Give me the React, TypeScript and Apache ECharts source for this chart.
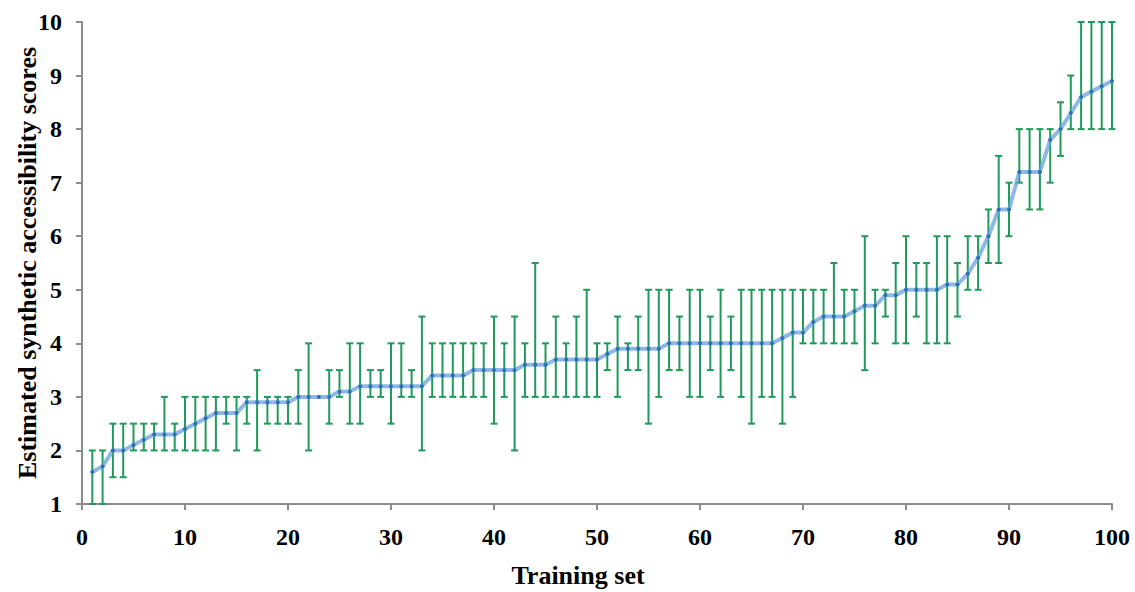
import React, { useEffect, useRef } from "react";
import * as echarts from "echarts";

const trainingSet: number[] = Array.from({ length: 100 }, (_, i) => i + 1);

const scores: number[] = [
  1.6, 1.7, 2.0, 2.0, 2.1, 2.2, 2.3, 2.3, 2.3, 2.4,
  2.5, 2.6, 2.7, 2.7, 2.7, 2.9, 2.9, 2.9, 2.9, 2.9,
  3.0, 3.0, 3.0, 3.0, 3.1, 3.1, 3.2, 3.2, 3.2, 3.2,
  3.2, 3.2, 3.2, 3.4, 3.4, 3.4, 3.4, 3.5, 3.5, 3.5,
  3.5, 3.5, 3.6, 3.6, 3.6, 3.7, 3.7, 3.7, 3.7, 3.7,
  3.8, 3.9, 3.9, 3.9, 3.9, 3.9, 4.0, 4.0, 4.0, 4.0,
  4.0, 4.0, 4.0, 4.0, 4.0, 4.0, 4.0, 4.1, 4.2, 4.2,
  4.4, 4.5, 4.5, 4.5, 4.6, 4.7, 4.7, 4.9, 4.9, 5.0,
  5.0, 5.0, 5.0, 5.1, 5.1, 5.3, 5.6, 6.0, 6.5, 6.5,
  7.2, 7.2, 7.2, 7.8, 8.0, 8.3, 8.6, 8.7, 8.8, 8.9,
];

const lowBounds: number[] = [
  1, 1, 1.5, 1.5, 2, 2, 2, 2, 2, 2,
  2, 2, 2, 2.5, 2, 2.5, 2, 2.5, 2.5, 2.5,
  2.5, 2, 3, 2.5, 3, 2.5, 2.5, 3, 3, 2.5,
  3, 3, 2, 3, 3, 3, 3, 3, 3, 2.5,
  3, 2, 3, 3, 3, 3, 3, 3, 3, 3,
  3.5, 3, 3.5, 3.5, 2.5, 3, 3.5, 3.5, 3, 3,
  3.5, 3, 3.5, 3, 2.5, 3, 3, 2.5, 3, 4,
  4, 4, 4, 4, 4, 3.5, 4, 4.5, 4, 4,
  4.5, 4, 4, 4, 4.5, 5, 5, 5.5, 5.5, 6,
  7, 6.5, 6.5, 7, 7.5, 8, 8, 8, 8, 8,
];

const highBounds: number[] = [
  2, 2, 2.5, 2.5, 2.5, 2.5, 2.5, 3, 2.5, 3,
  3, 3, 3, 3, 3, 3, 3.5, 3, 3, 3,
  3.5, 4, 3, 3.5, 3.5, 4, 4, 3.5, 3.5, 4,
  4, 3.5, 4.5, 4, 4, 4, 4, 4, 4, 4.5,
  4, 4.5, 4, 5.5, 4, 4.5, 4, 4.5, 5, 4,
  4, 4.5, 4, 4.5, 5, 5, 5, 4.5, 5, 5,
  4.5, 5, 4.5, 5, 5, 5, 5, 5, 5, 5,
  5, 5, 5.5, 5, 5, 6, 5, 5, 5.5, 6,
  5.5, 5.5, 6, 6, 5.5, 6, 6, 6.5, 7.5, 7,
  8, 8, 8, 8, 8.5, 9, 10, 10, 10, 10,
];

const xTickLabels: string[] = ["0", "10", "20", "30", "40", "50", "60", "70", "80", "90", "100"];
const yTickLabels: string[] = ["1", "2", "3", "4", "5", "6", "7", "8", "9", "10"];

const FONT = "'Liberation Serif', 'Times New Roman', serif";

export default function App() {
  const ref = useRef<HTMLDivElement>(null);

  useEffect(() => {
    if (!ref.current) return;
    const chart = echarts.init(ref.current, null, { renderer: "svg" });

    const lineData = trainingSet.map((x, i) => [x, scores[i]]);
    const errData = trainingSet.map((x, i) => [x, lowBounds[i], highBounds[i]]);

    const axisLineStyle = { color: "#8c8c8c", width: 2 };

    chart.setOption({
      animation: false,
      backgroundColor: "#ffffff",
      grid: { left: 82, right: 23, top: 22, bottom: 88, containLabel: false, outerBoundsMode: "none" },
      xAxis: {
        type: "value",
        min: 0,
        max: 100,
        interval: 10,
        name: "Training set",
        nameLocation: "middle",
        nameGap: 58,
        nameTextStyle: {
          fontFamily: FONT,
          fontWeight: "bold",
          fontSize: 26,
          color: "#000",
          padding: [0, 38, 0, 0],
        },
        axisLine: { show: true, lineStyle: axisLineStyle },
        axisTick: { show: true, length: 6, lineStyle: axisLineStyle },
        splitLine: { show: false },
        axisLabel: {
          margin: 21,
          fontFamily: FONT,
          fontWeight: "bold",
          fontSize: 24,
          color: "#000",
          formatter: (v: number) => xTickLabels[Math.round(v / 10)] ?? "",
        },
      },
      yAxis: {
        type: "value",
        min: 1,
        max: 10,
        interval: 1,
        name: "Estimated synthetic accessibility scores",
        nameLocation: "middle",
        nameGap: 42,
        nameMoveOverlap: false,
        nameTextStyle: { fontFamily: FONT, fontWeight: "bold", fontSize: 26, color: "#000" },
        axisLine: { show: true, lineStyle: axisLineStyle },
        axisTick: { show: true, length: 6, lineStyle: axisLineStyle },
        splitLine: { show: false },
        axisLabel: {
          margin: 20,
          fontFamily: FONT,
          fontWeight: "bold",
          fontSize: 24,
          color: "#000",
          formatter: (v: number) => yTickLabels[Math.round(v) - 1] ?? "",
        },
      },
      series: [
        {
          type: "custom",
          name: "error",
          data: errData,
          z: 2,
          renderItem: (params: any, api: any) => {
            const x = api.value(0);
            const lo = api.value(1);
            const hi = api.value(2);
            if (lo === hi) return { type: "group", children: [] };
            const pHi = api.coord([x, hi]);
            const pLo = api.coord([x, lo]);
            const hw = 3.5;
            const style = { stroke: "#1f9a5a", lineWidth: 2 };
            return {
              type: "group",
              children: [
                { type: "line", shape: { x1: pHi[0], y1: pHi[1], x2: pLo[0], y2: pLo[1] }, style },
                { type: "line", shape: { x1: pHi[0] - hw, y1: pHi[1], x2: pHi[0] + hw, y2: pHi[1] }, style },
                { type: "line", shape: { x1: pLo[0] - hw, y1: pLo[1], x2: pLo[0] + hw, y2: pLo[1] }, style },
              ],
            };
          },
        },
        {
          type: "line",
          name: "score",
          data: lineData,
          z: 3,
          symbol: "circle",
          symbolSize: 4,
          showSymbol: true,
          itemStyle: { color: "#2d6db3" },
          lineStyle: { color: "rgba(100,162,218,0.75)", width: 4 },
        },
      ],
    });

    return () => chart.dispose();
  }, []);

  return (
    <div
      ref={ref}
      style={{ position: "absolute", left: 0, top: 0, width: 1135, height: 592 }}
    />
  );
}
